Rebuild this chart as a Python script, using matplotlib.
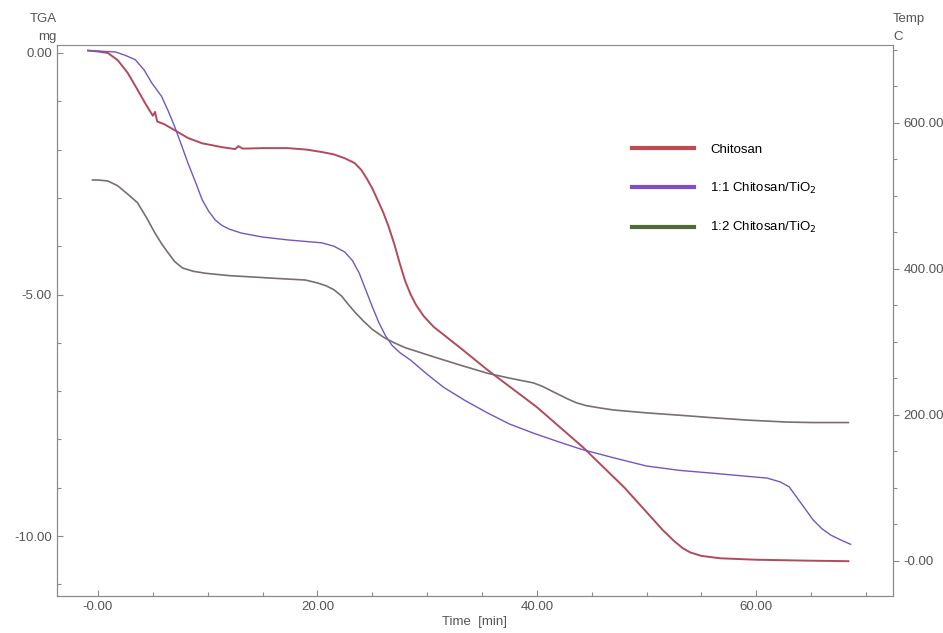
import matplotlib
matplotlib.use("Agg")
from matplotlib import pyplot as plt
from matplotlib.lines import Line2D
from matplotlib.ticker import MultipleLocator, FixedLocator, FuncFormatter

# Chitosan
t_chitosan = [-0.9, 0.0, 0.9, 1.8, 2.7, 3.5, 4.3, 5.0, 5.2, 5.4, 6.0, 7.0, 8.2, 9.5,
              11.3, 12.5, 12.8, 13.2, 15.0, 17.3, 19.0, 20.4, 21.5, 22.5, 23.4, 24.0,
              24.5, 25.0, 25.5, 26.0, 26.5, 27.0, 27.5, 28.0, 28.5, 29.0, 29.7, 30.6,
              33.0, 35.5, 40.0, 44.2, 48.0, 51.5, 52.5, 53.3, 54.0, 55.0, 56.7, 60.0,
              65.0, 68.4]
mg_chitosan = [0.05, 0.03, 0.0, -0.15, -0.41, -0.72, -1.04, -1.3, -1.22, -1.42, -1.47,
               -1.6, -1.76, -1.87, -1.95, -1.99, -1.93, -1.98, -1.97, -1.97, -2.0, -2.05,
               -2.1, -2.18, -2.28, -2.42, -2.6, -2.8, -3.05, -3.3, -3.6, -3.95, -4.35,
               -4.72, -5.0, -5.22, -5.45, -5.67, -6.1, -6.56, -7.33, -8.16, -9.0, -9.88,
               -10.1, -10.25, -10.34, -10.41, -10.46, -10.49, -10.51, -10.52]

# 1:1 Chitosan/TiO2
t_11 = [-0.9, 0.0, 1.6, 2.5, 3.4, 4.2, 4.9, 5.8, 6.4, 7.0, 7.6, 8.2, 8.9, 9.5, 10.1,
        10.7, 11.3, 12.0, 13.1, 15.0, 17.3, 20.4, 21.5, 22.5, 23.2, 23.8, 24.4, 25.0,
        25.6, 26.2, 26.8, 27.5, 28.5, 30.0, 31.5, 33.5, 35.5, 37.5, 39.7, 42.0, 44.0,
        47.0, 50.0, 53.0, 56.1, 59.0, 61.0, 62.2, 63.0, 63.7, 64.5, 65.2, 66.0, 66.8,
        67.7, 68.6]
mg_11 = [0.05, 0.04, 0.02, -0.05, -0.14, -0.35, -0.62, -0.9, -1.2, -1.53, -1.9, -2.28,
         -2.68, -3.04, -3.28, -3.46, -3.57, -3.65, -3.73, -3.81, -3.87, -3.93, -4.0,
         -4.12, -4.3, -4.55, -4.9, -5.25, -5.58, -5.85, -6.05, -6.2, -6.36, -6.65,
         -6.92, -7.2, -7.45, -7.68, -7.87, -8.05, -8.2, -8.38, -8.55, -8.64, -8.7,
         -8.76, -8.8, -8.88, -8.98, -9.2, -9.45, -9.67, -9.85, -9.98, -10.08, -10.17]

# 1:2 Chitosan/TiO2
t_12 = [-0.5, 0.0, 0.9, 1.8, 2.7, 3.6, 4.4, 5.2, 5.8, 6.4, 7.0, 7.7, 8.7, 9.8, 12.0,
        14.3, 16.5, 18.9, 20.0, 20.8, 21.5, 22.2, 22.8, 23.4, 24.2, 25.0, 26.0, 27.0,
        28.0, 30.6, 33.0, 35.5, 37.5, 39.7, 40.5, 41.2, 42.0, 42.8, 43.6, 44.5, 45.8,
        47.0, 50.0, 53.1, 56.0, 59.2, 62.8, 65.0, 68.4]
mg_12 = [-2.63, -2.63, -2.65, -2.75, -2.92, -3.1, -3.4, -3.73, -3.95, -4.14, -4.32,
         -4.45, -4.52, -4.56, -4.61, -4.64, -4.67, -4.7, -4.76, -4.82, -4.9, -5.03,
         -5.2, -5.36, -5.55, -5.72, -5.88, -6.0, -6.1, -6.29, -6.46, -6.63, -6.73,
         -6.83, -6.9, -6.98, -7.07, -7.16, -7.24, -7.3, -7.35, -7.39, -7.45, -7.5,
         -7.55, -7.6, -7.64, -7.65, -7.65]

labels = ["Chitosan", "1:1 Chitosan/TiO$_2$", "1:2 Chitosan/TiO$_2$"]
legend_colors = ["#bf4b4f", "#7e50c6", "#52693a"]
line_colors = ["#b24a5c", "#7556bf", "#7a6e6e"]

x_ticks = [0, 20, 40, 60]
left_ticks = [0, -5, -10]
right_ticks = [0, 200, 400, 600]

plt.rcParams['font.family'] = ['Liberation Sans', 'DejaVu Sans']
tick_grey = "#555555"
spine_grey = "#8a8a8a"

fig = plt.figure(figsize=(9.43, 6.33), dpi=100)
ax = fig.add_axes([0.0604, 0.0585, 0.8866, 0.8705])

ax.plot(t_chitosan, mg_chitosan, color=line_colors[0], lw=1.4)
ax.plot(t_11, mg_11, color=line_colors[1], lw=1.0)
ax.plot(t_12, mg_12, color=line_colors[2], lw=1.2)

ax.set_xlim(-3.74, 72.47)
ax.set_ylim(-11.24, 0.166)


def fmt(v, pos):
    return "-0.00" if v == 0 else "%.2f" % v


ax.xaxis.set_major_locator(FixedLocator(x_ticks))
ax.xaxis.set_minor_locator(MultipleLocator(5))
ax.xaxis.set_major_formatter(FuncFormatter(fmt))
ax.yaxis.set_major_locator(FixedLocator(left_ticks))
ax.yaxis.set_minor_locator(MultipleLocator(1))
ax.yaxis.set_major_formatter(FuncFormatter(lambda v, p: "%.2f" % v))
ax.tick_params(which="both", direction="in", colors=spine_grey, labelcolor=tick_grey,
               labelsize=9.5, width=0.8)
ax.tick_params(which="major", length=4)
ax.tick_params(which="minor", length=3)

ax2 = ax.twinx()
ax2.set_ylim(-47.9, 706.8)
ax2.yaxis.set_major_locator(FixedLocator(right_ticks))
ax2.yaxis.set_minor_locator(MultipleLocator(50))
ax2.yaxis.set_major_formatter(FuncFormatter(fmt))
ax2.tick_params(which="both", direction="out", colors=spine_grey, labelcolor=tick_grey,
                labelsize=9.5, width=0.8)
ax2.tick_params(which="major", length=4)
ax2.tick_params(which="minor", length=3)

for a in (ax, ax2):
    for side in a.spines.values():
        side.set_color(spine_grey)
        side.set_linewidth(0.8)
ax.spines["top"].set_color("#c8dcdc")

ax.set_xlabel("Time  [min]", color=tick_grey, fontsize=9.5, labelpad=2)
fig.text(0.0604, 0.932, "TGA\nmg", ha="right", va="bottom", color=tick_grey,
         fontsize=9.5, linespacing=1.7)
fig.text(0.947, 0.932, "Temp\nC", ha="left", va="bottom", color=tick_grey,
         fontsize=9.5, linespacing=1.7)

handles = [Line2D([], [], color=c, lw=3) for c in legend_colors]
ax.legend(handles, labels, loc="upper left", bbox_to_anchor=(0.674, 0.842),
          frameon=False, fontsize=9.5, handlelength=4.7, handletextpad=1.2,
          labelspacing=1.86)

fig.savefig("out.png", dpi=100)
